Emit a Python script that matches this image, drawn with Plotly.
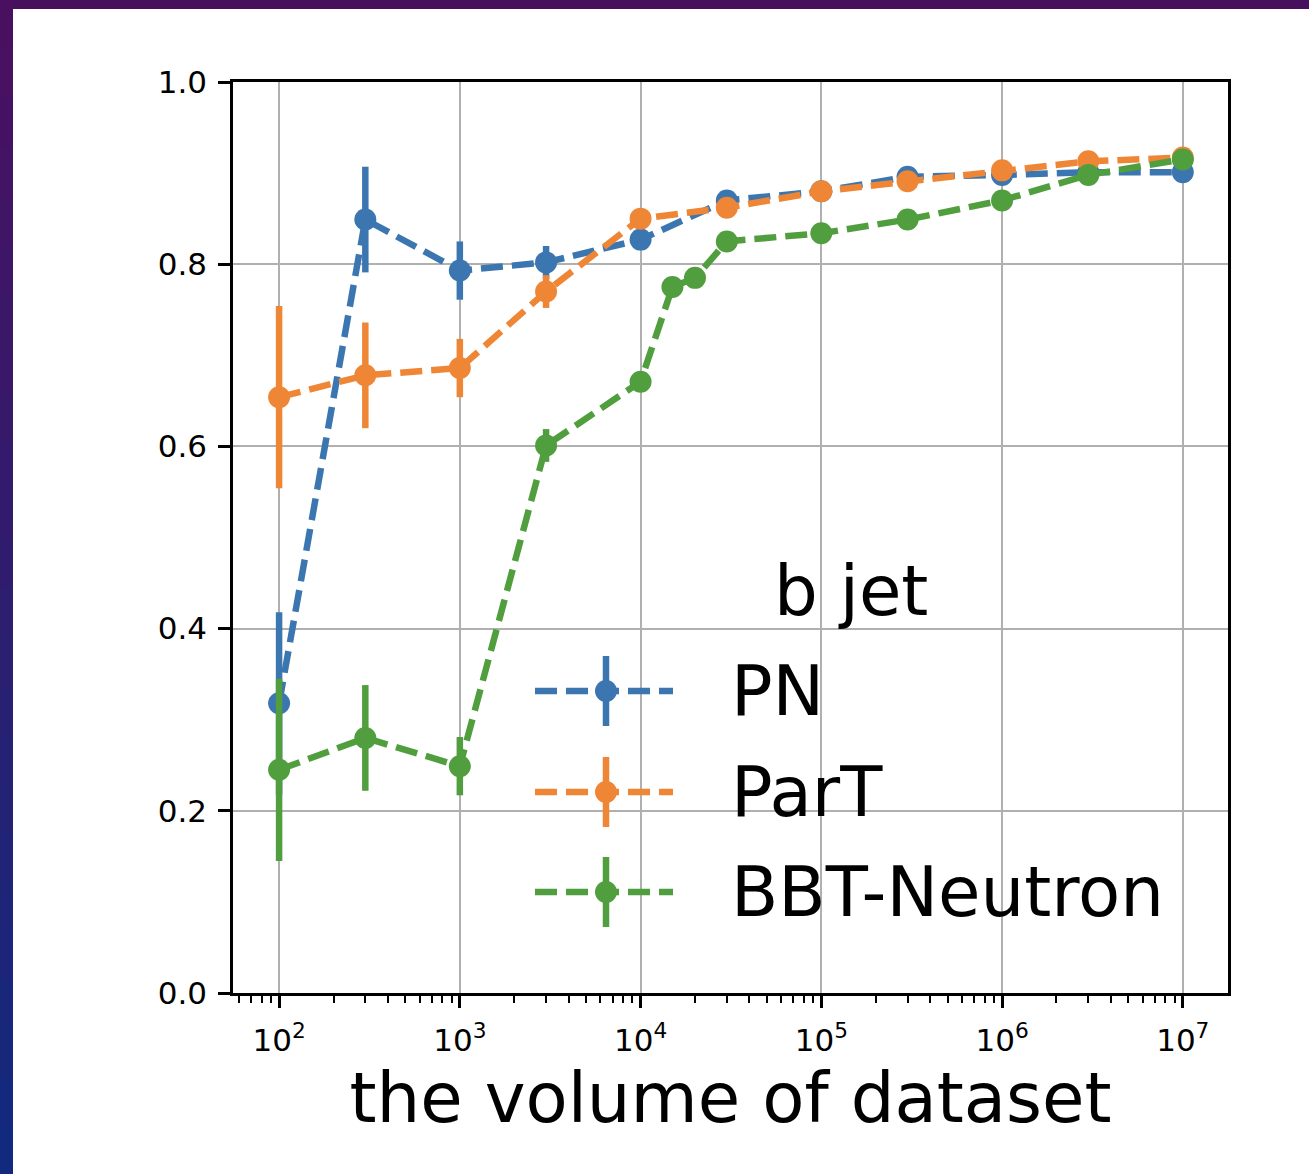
import plotly.graph_objects as go

# ---------------- data ----------------
x_pn = [100, 300, 1000, 3000, 10000, 30000, 100000, 300000, 1000000, 3000000, 10000000]
pn = [0.318, 0.849, 0.793, 0.802, 0.827, 0.870, 0.880, 0.896, 0.898, 0.901, 0.901]
pn_err = [0.100, 0.058, 0.032, 0.018, 0.010, 0.006, 0.003, 0.002, 0.001, 0.0006, 0.0003]

x_part = [100, 300, 1000, 3000, 10000, 30000, 100000, 300000, 1000000, 3000000, 10000000]
part = [0.654, 0.678, 0.686, 0.770, 0.850, 0.862, 0.880, 0.891, 0.903, 0.913, 0.917]
part_err = [0.100, 0.058, 0.032, 0.018, 0.010, 0.006, 0.003, 0.002, 0.001, 0.0006, 0.0003]

x_bbt = [100, 300, 1000, 3000, 10000, 15000, 20000, 30000, 100000, 300000, 1000000, 3000000, 10000000]
bbt = [0.245, 0.280, 0.249, 0.601, 0.671, 0.775, 0.785, 0.825, 0.834, 0.849, 0.870, 0.898, 0.915]
bbt_err = [0.100, 0.058, 0.032, 0.018, 0.010, 0.008, 0.007, 0.006, 0.003, 0.002, 0.001, 0.0006, 0.0003]

series_names = ["PN", "ParT", "BBT-Neutron"]
legend_title = "b jet"
x_label = "the volume of dataset"
x_tick_vals = [100, 1000, 10000, 100000, 1000000, 10000000]
x_tick_text = ["10<sup>2</sup>", "10<sup>3</sup>", "10<sup>4</sup>", "10<sup>5</sup>",
               "10<sup>6</sup>", "10<sup>7</sup>"]
y_tick_vals = [0.0, 0.2, 0.4, 0.6, 0.8, 1.0]

# ---------------- style ----------------
COLORS = ["#3b76b0", "#ef8636", "#519e3e"]
FONT = "DejaVu Sans"
W, H = 1309, 1174
L, R, T, B = 233, 1228, 82, 993
DASH = "22px,9px"
LW = 6.5
MS = 22
BIG = 69

minor_vals = [m * 10 ** e for e in range(1, 7) for m in range(2, 10)]
minor_vals = [v for v in minor_vals if 55 < v < 1.7e7]

fig = go.Figure()
for xs, ys, errs, name, col in [
    (x_pn, pn, pn_err, series_names[0], COLORS[0]),
    (x_part, part, part_err, series_names[1], COLORS[1]),
    (x_bbt, bbt, bbt_err, series_names[2], COLORS[2]),
]:
    fig.add_trace(go.Scatter(
        x=xs, y=ys, name=name, mode="lines+markers",
        line=dict(color=col, width=LW, dash=DASH),
        marker=dict(color=col, size=MS, line=dict(width=0)),
        error_y=dict(type="data", array=errs, visible=True, color=col,
                     thickness=LW, width=0),
        showlegend=False,
    ))


def pxx(x):
    return (x - L) / (R - L)


def pxy(y):
    return (B - y) / (B - T)


shapes = []
annotations = []

# decorative frame (slide background strips)
shapes.append(dict(type="rect", xref="paper", yref="paper", layer="below",
                   x0=pxx(0), x1=pxx(W), y0=pxy(0), y1=pxy(9),
                   fillcolor="#47105d", line=dict(width=0)))
top_c = (0x4a, 0x10, 0x60)
bot_c = (0x12, 0x2a, 0x7e)
N = 24
for i in range(N):
    t = i / (N - 1)
    c = tuple(int(round(top_c[k] + (bot_c[k] - top_c[k]) * t)) for k in range(3))
    y0 = H * i / N
    y1 = H * (i + 1) / N + 1
    shapes.append(dict(type="rect", xref="paper", yref="paper", layer="below",
                       x0=pxx(0), x1=pxx(13), y0=pxy(y1), y1=pxy(y0),
                       fillcolor="rgb(%d,%d,%d)" % c, line=dict(width=0)))

# manual legend (matplotlib-style errorbar handles)
annotations.append(dict(text=legend_title, xref="paper", yref="paper",
                        x=pxx(851), y=pxy(591), xanchor="center", yanchor="middle",
                        showarrow=False, font=dict(family=FONT, size=BIG, color="black")))
for yy, name, col in zip([691, 792, 892], series_names, COLORS):
    shapes.append(dict(type="line", xref="paper", yref="paper",
                       x0=pxx(535), x1=pxx(673), y0=pxy(yy), y1=pxy(yy),
                       line=dict(color=col, width=LW, dash=DASH)))
    shapes.append(dict(type="line", xref="paper", yref="paper",
                       x0=pxx(606), x1=pxx(606), y0=pxy(yy - 35), y1=pxy(yy + 35),
                       line=dict(color=col, width=LW)))
    shapes.append(dict(type="circle", xref="paper", yref="paper",
                       x0=pxx(606 - MS / 2), x1=pxx(606 + MS / 2),
                       y0=pxy(yy + MS / 2), y1=pxy(yy - MS / 2),
                       fillcolor=col, line=dict(width=0)))
    annotations.append(dict(text=name, xref="paper", yref="paper",
                            x=pxx(729), y=pxy(yy), xanchor="left", yanchor="middle",
                            showarrow=False,
                            font=dict(family=FONT, size=BIG, color="black")))

axis_common = dict(
    showline=True, linecolor="black", linewidth=2.5, mirror=True,
    ticks="outside", ticklen=12, tickwidth=2.5, tickcolor="black",
    showgrid=True, gridcolor="#b0b0b0", gridwidth=2.2,
    zeroline=False,
    tickfont=dict(family=FONT, size=31, color="black"),
)

fig.update_layout(
    width=W, height=H,
    margin=dict(l=L, r=W - R, t=T, b=H - B, autoexpand=False),
    paper_bgcolor="white", plot_bgcolor="white",
    font=dict(family=FONT, color="black"),
    shapes=shapes, annotations=annotations,
    xaxis=dict(
        type="log", range=[1.745, 7.25],
        tickmode="array", tickvals=x_tick_vals, ticktext=x_tick_text,
        minor=dict(tickmode="array", tickvals=minor_vals, ticks="outside",
                   ticklen=7, tickwidth=2, tickcolor="black", showgrid=False),
        title=dict(text=x_label, font=dict(family=FONT, size=BIG, color="black"),
                   standoff=12),
        ticklabelstandoff=6,
        automargin=False,
        **axis_common,
    ),
    yaxis=dict(
        range=[0, 1], tickmode="array", tickvals=y_tick_vals, tickformat=".1f",
        ticklabelstandoff=5,
        automargin=False,
        **axis_common,
    ),
)

fig.write_html("out.html")
